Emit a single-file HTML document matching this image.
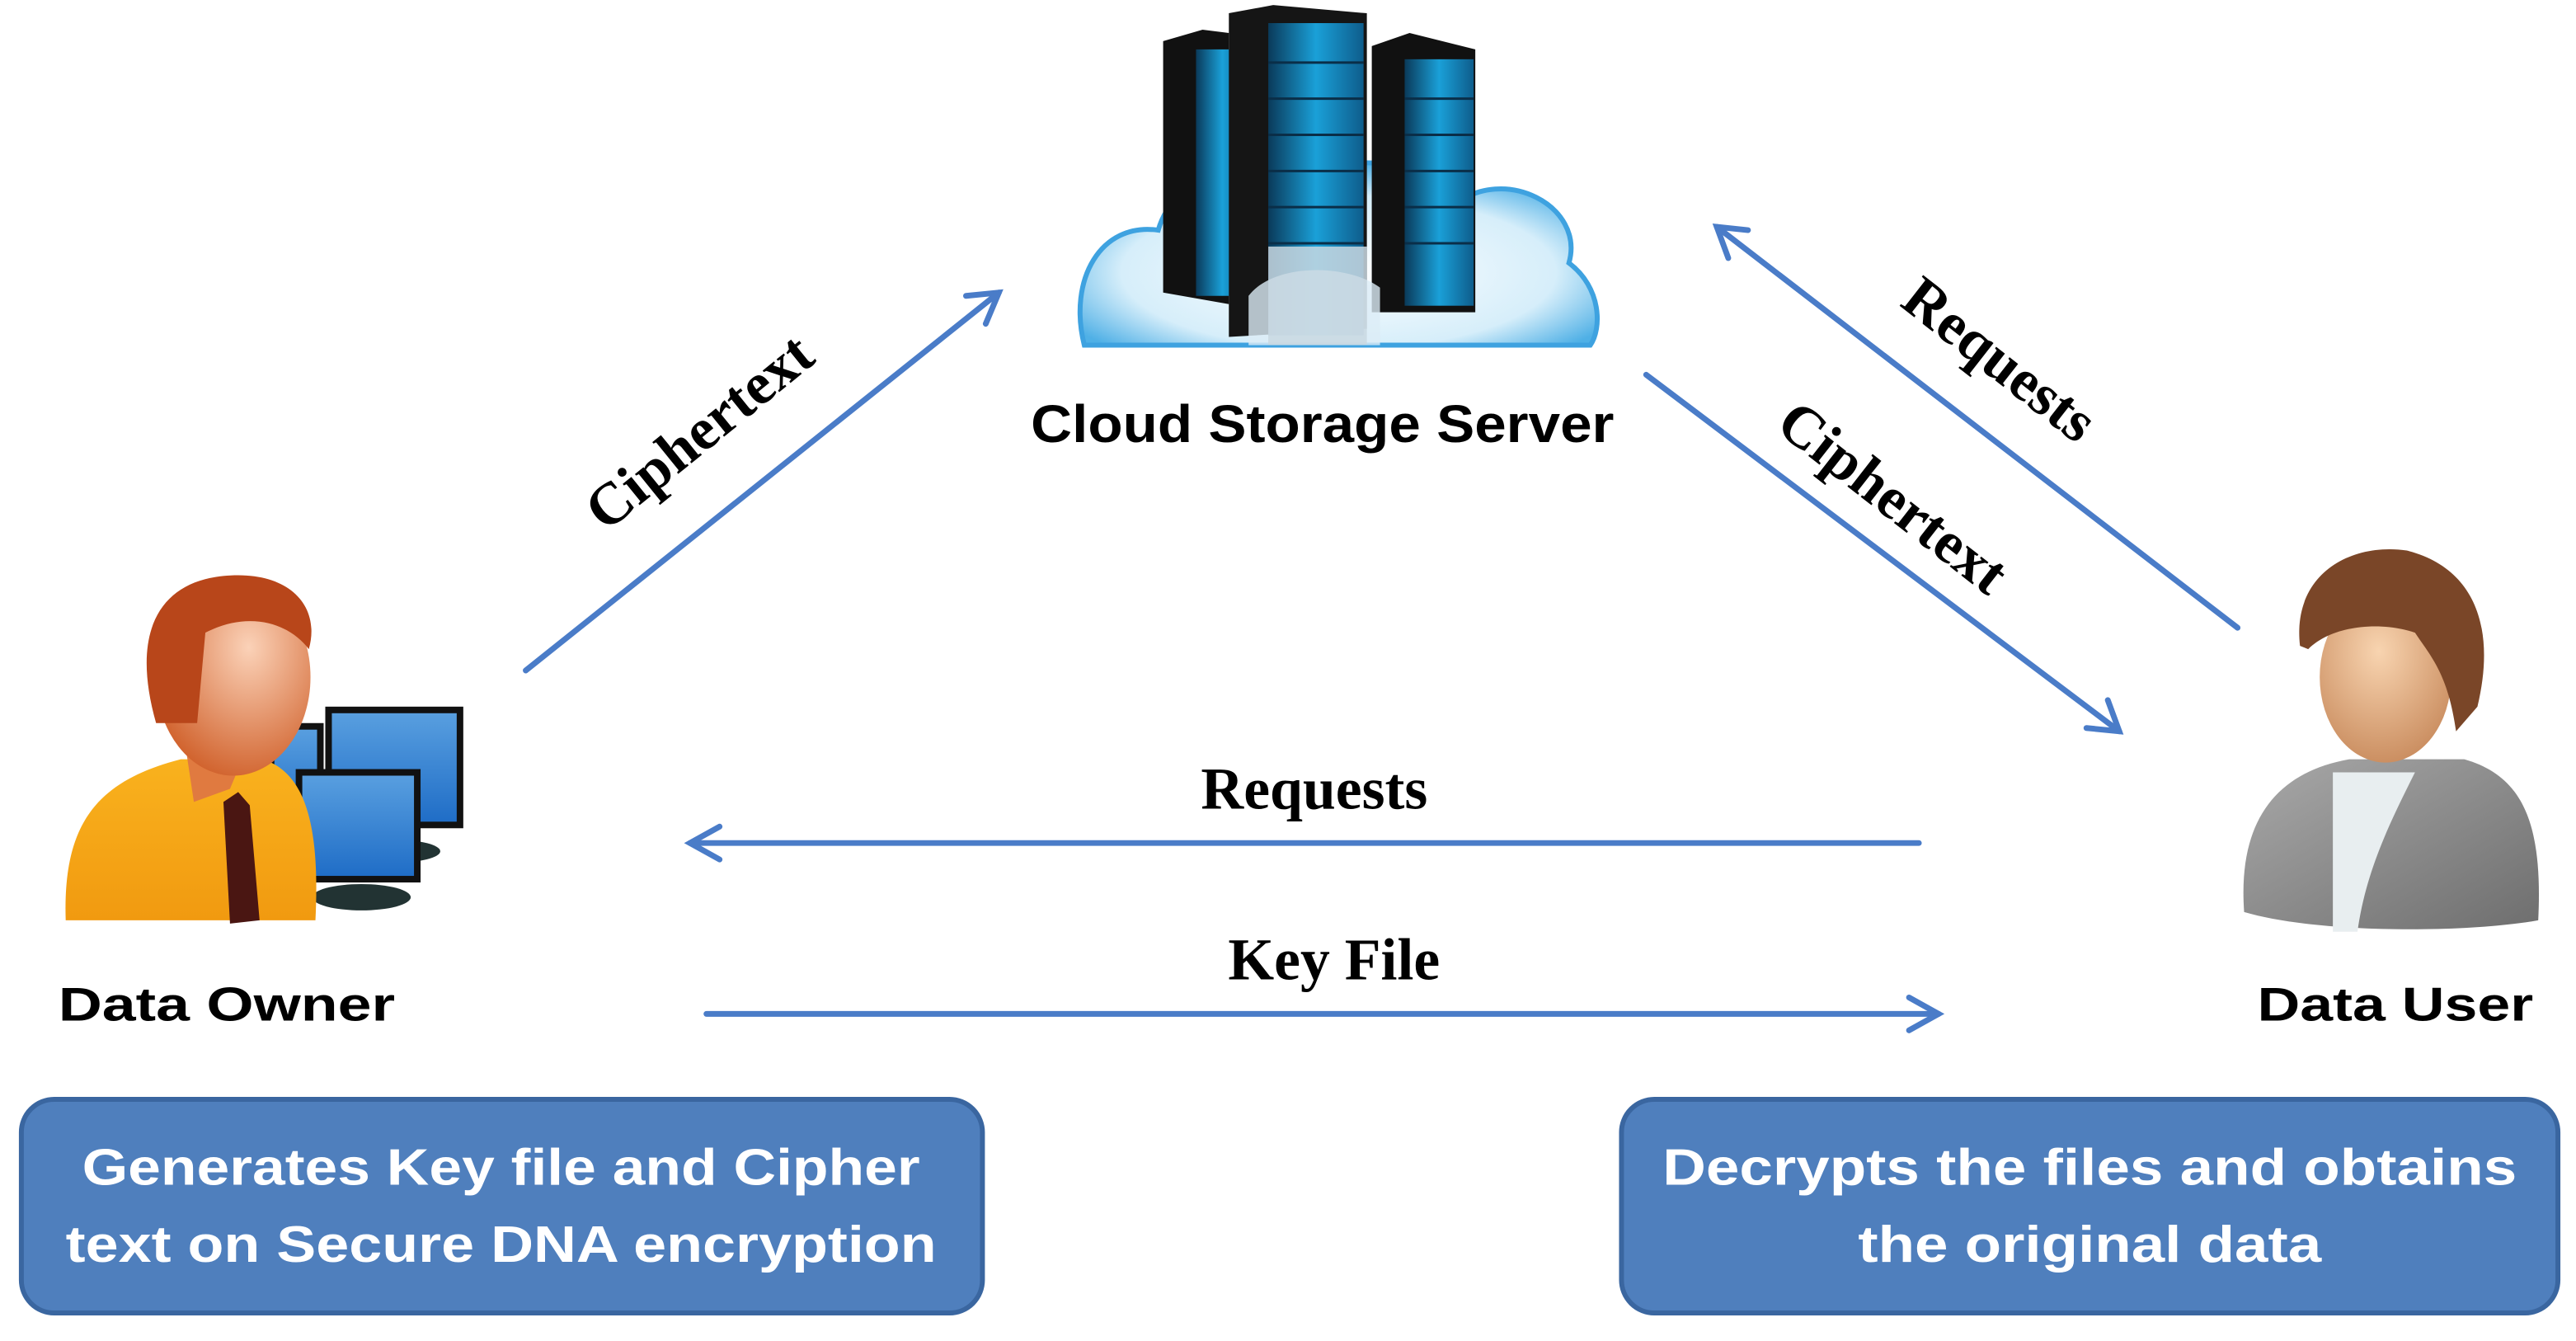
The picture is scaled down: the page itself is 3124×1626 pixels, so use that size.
<!DOCTYPE html>
<html><head><meta charset="utf-8"><style>html,body{margin:0;padding:0;background:#fff}svg{display:block}</style></head>
<body>
<svg width="3124" height="1626" viewBox="0 0 1568 816" xmlns="http://www.w3.org/2000/svg">
<defs>
<linearGradient id="rack" x1="0" y1="0" x2="1" y2="0"><stop offset="0" stop-color="#0a3a5a"/><stop offset="0.5" stop-color="#1aa0d8"/><stop offset="1" stop-color="#0e5d8c"/></linearGradient>
<radialGradient id="cloud" cx="0.5" cy="0.6" r="0.6"><stop offset="0" stop-color="#ffffff"/><stop offset="0.7" stop-color="#d6eefa"/><stop offset="1" stop-color="#4fb0e6"/></radialGradient>
<radialGradient id="face1" cx="0.6" cy="0.35" r="0.7"><stop offset="0" stop-color="#fbd2b8"/><stop offset="1" stop-color="#d0602a"/></radialGradient>
<radialGradient id="face2" cx="0.45" cy="0.35" r="0.7"><stop offset="0" stop-color="#f8d4b0"/><stop offset="1" stop-color="#c88a5c"/></radialGradient>
<linearGradient id="shirt" x1="0" y1="0" x2="0" y2="1"><stop offset="0" stop-color="#f9b21e"/><stop offset="1" stop-color="#f19a10"/></linearGradient>
<linearGradient id="grey" x1="0" y1="0" x2="1" y2="1"><stop offset="0" stop-color="#a9a9a9"/><stop offset="1" stop-color="#6e6e6e"/></linearGradient>
<linearGradient id="mon" x1="0" y1="0" x2="0" y2="1"><stop offset="0" stop-color="#5aa0e0"/><stop offset="1" stop-color="#1e6cc6"/></linearGradient>
</defs>

<!-- Server -->
<g>
<path d="M660,210 C650,170 670,135 705,140 C715,105 760,95 790,115 C810,90 870,95 885,125 C915,100 965,125 955,160 C975,175 975,200 968,210 Z" fill="url(#cloud)" stroke="#3ea2e0" stroke-width="3"/>
<polygon points="708,25 732,18 748,20 748,185 708,178" fill="#111"/>
<rect x="728" y="30" width="32" height="150" fill="url(#rack)"/>
<polygon points="835,28 858,20 898,30 898,190 835,190" fill="#111"/>
<rect x="855" y="36" width="42" height="150" fill="url(#rack)"/>
<polygon points="748,8 775,3 832,8 832,200 748,205" fill="#151515"/>
<rect x="772" y="14" width="58" height="190" fill="url(#rack)"/>
<g stroke="#0a2e48" stroke-width="1.5">
<line x1="772" y1="38" x2="830" y2="38"/><line x1="772" y1="60" x2="830" y2="60"/><line x1="772" y1="82" x2="830" y2="82"/><line x1="772" y1="104" x2="830" y2="104"/><line x1="772" y1="126" x2="830" y2="126"/><line x1="772" y1="148" x2="830" y2="148"/>
<line x1="855" y1="60" x2="897" y2="60"/><line x1="855" y1="82" x2="897" y2="82"/><line x1="855" y1="104" x2="897" y2="104"/><line x1="855" y1="126" x2="897" y2="126"/><line x1="855" y1="148" x2="897" y2="148"/>
</g>
<path d="M760,180 C775,160 820,160 840,175 L840,210 L760,210 Z" fill="#dcecf6" opacity="0.8"/>
<rect x="772" y="150" width="60" height="60" fill="#c9d8e2" opacity="0.85"/>
</g>
<text x="805" y="269" font-family="Liberation Sans, sans-serif" font-weight="bold" font-size="32" text-anchor="middle" textLength="355" lengthAdjust="spacingAndGlyphs">Cloud Storage Server</text>

<!-- Arrows -->
<g stroke="#4a7cc8" stroke-width="3.5" fill="none" stroke-linecap="round">
<line x1="320" y1="408" x2="608" y2="178"/>
<polyline points="588,180 608,178 600,197"/>
<line x1="1362" y1="382" x2="1045" y2="138"/>
<polyline points="1052,157 1045,138 1064,140"/>
<line x1="1002" y1="228" x2="1290" y2="445"/>
<polyline points="1270,443 1290,445 1283,426"/>
<line x1="1168" y1="513" x2="420" y2="513"/>
<polyline points="438,503 420,513 438,523"/>
<line x1="430" y1="617" x2="1180" y2="617"/>
<polyline points="1162,607 1180,617 1162,627"/>
</g>

<g font-family="Liberation Serif, serif" font-weight="bold" font-size="36" fill="#000" text-anchor="middle">
<text transform="translate(433,272) rotate(-39)">Ciphertext</text>
<text transform="translate(1210,228) rotate(38)">Requests</text>
<text transform="translate(1145,312) rotate(38)">Ciphertext</text>
<text x="800" y="492">Requests</text>
<text x="812" y="596">Key File</text>
</g>

<!-- Data Owner -->
<g>
<rect x="200" y="432" width="80" height="70" fill="url(#mon)" stroke="#111" stroke-width="4"/>
<ellipse cx="240" cy="518" rx="28" ry="7" fill="#233"/>
<rect x="165" y="442" width="30" height="60" fill="url(#mon)" stroke="#111" stroke-width="4"/>
<rect x="182" y="470" width="72" height="65" fill="url(#mon)" stroke="#111" stroke-width="4"/>
<ellipse cx="220" cy="546" rx="30" ry="8" fill="#233"/>
<path d="M40,560 C38,500 60,475 110,462 L160,462 C185,470 195,500 192,560 Z" fill="url(#shirt)"/>
<path d="M136,488 L145,482 L152,490 L158,560 L140,562 Z" fill="#4a1612"/>
<path d="M112,448 L118,488 L140,480 L150,456 Z" fill="#e07a40"/>
<ellipse cx="142" cy="412" rx="47" ry="60" fill="url(#face1)"/>
<path d="M95,440 C78,380 100,350 145,350 C178,350 195,370 188,395 C175,378 150,372 125,385 L120,440 Z" fill="#b8461a"/>
</g>
<text x="138" y="621" font-family="Liberation Sans, sans-serif" font-weight="bold" font-size="29" text-anchor="middle" textLength="205" lengthAdjust="spacingAndGlyphs">Data Owner</text>

<!-- Data User -->
<g>
<path d="M1366,555 C1362,500 1385,470 1430,462 L1500,462 C1535,472 1548,500 1545,560 C1500,568 1410,568 1366,555 Z" fill="url(#grey)"/>
<path d="M1420,470 L1470,470 C1455,500 1440,530 1435,567 L1420,567 Z" fill="#e8eef0"/>
<ellipse cx="1452" cy="412" rx="40" ry="52" fill="url(#face2)"/>
<path d="M1400,393 C1395,350 1430,330 1465,335 C1505,345 1520,380 1508,430 L1495,445 C1490,410 1480,400 1470,385 C1450,378 1420,380 1405,395 Z" fill="#7a4628"/>
</g>
<text x="1458" y="621" font-family="Liberation Sans, sans-serif" font-weight="bold" font-size="29" text-anchor="middle" textLength="168" lengthAdjust="spacingAndGlyphs">Data User</text>

<!-- Boxes -->
<rect x="13" y="669" width="585" height="130" rx="20" fill="#4f7fbd" stroke="#3a66a0" stroke-width="3"/>
<rect x="987" y="669" width="570" height="130" rx="20" fill="#4f7fbd" stroke="#3a66a0" stroke-width="3"/>
<g font-family="Liberation Sans, sans-serif" font-weight="bold" font-size="31" fill="#fff" text-anchor="middle">
<text x="305" y="721" textLength="510" lengthAdjust="spacingAndGlyphs">Generates Key file and Cipher</text>
<text x="305" y="768" textLength="530" lengthAdjust="spacingAndGlyphs">text on Secure DNA encryption</text>
<text x="1272" y="721" textLength="520" lengthAdjust="spacingAndGlyphs">Decrypts the files  and obtains</text>
<text x="1272" y="768" textLength="282" lengthAdjust="spacingAndGlyphs">the original data</text>
</g>
</svg>
</body></html>
